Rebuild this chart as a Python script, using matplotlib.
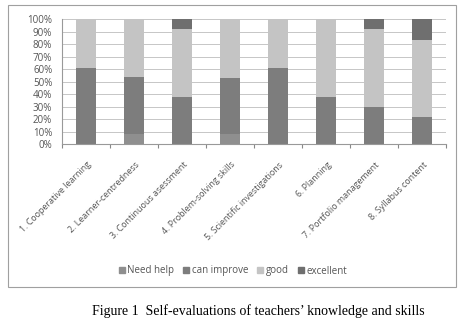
import matplotlib.pyplot as plt
import matplotlib.patches as mpatches
import numpy as np

categories = ["1. Cooperative learning", "2. Learner-centredness", "3. Continuous asessment",
              "4. Problem-solving skills", "5. Scientific investigations", "6. Planning",
              "7. Portfolio management", "8. Syllabus content"]
need_help = [0, 8, 0, 8, 0, 0, 0, 0]
can_improve = [61, 46, 38, 45, 61, 38, 30, 22]
good = [39, 46, 54, 47, 39, 62, 62, 61]
excellent = [0, 0, 8, 0, 0, 0, 8, 17]

series = [("Need help", need_help, "#8f8f8f"),
          ("can improve", can_improve, "#7d7d7d"),
          ("good", good, "#c4c4c4"),
          ("excellent", excellent, "#6f6f6f")]

fig = plt.figure(figsize=(4.63, 3.32), dpi=100)
plt.rcParams['font.family'] = ['Open Sans', 'DejaVu Sans']

# outer chart frame
fig.patches.append(mpatches.Rectangle((8 / 463, 1 - 287 / 332), 448 / 463, 282 / 332,
                                      transform=fig.transFigure, fill=False,
                                      edgecolor="#a0a0a0", linewidth=0.8))

ax = fig.add_axes([62 / 463, 1 - 144 / 332, 384 / 463, 124.7 / 332])
x = np.arange(len(categories))
bottom = np.zeros(len(categories))
for name, vals, color in series:
    ax.bar(x, vals, 0.4, bottom=bottom, color=color, label=name)
    bottom += np.array(vals)

ax.set_xlim(-0.5, len(categories) - 0.5)
ax.set_ylim(0, 100)
ax.set_yticks(range(0, 101, 10))
ax.set_yticklabels([f"{v}%" for v in range(0, 101, 10)], fontsize=7, color="#555555")
ax.set_xticks(np.arange(-0.5, len(categories), 1), minor=False)
ax.set_xticklabels([])
ax.tick_params(axis="x", length=3, color="#888888")
ax.tick_params(axis="y", length=0, pad=7)
for i, c in enumerate(categories):
    ax.text(i + 0.02, -13, c, rotation=45, ha="right", va="top", rotation_mode="anchor",
            fontsize=6.4, color="#555555")
ax.grid(axis="y", color="#bdbdbd", linewidth=0.6)
ax.set_axisbelow(True)
for s in ["top", "right"]:
    ax.spines[s].set_visible(False)
ax.spines["left"].set_color("#999999")
ax.spines["bottom"].set_color("#999999")

handles = [mpatches.Patch(color=c, label=n) for n, _, c in series]
fig.legend(handles=handles, loc="center", bbox_to_anchor=(233 / 463, 1 - 271 / 332), ncol=4,
           frameon=False, fontsize=7, handlelength=0.6, handleheight=0.6, handletextpad=0.3,
           columnspacing=0.9, labelcolor="#555555")

fig.text(258 / 463, 1 - 311 / 332, "Figure 1  Self-evaluations of teachers\u2019 knowledge and skills",
         ha="center", va="center", fontsize=10, family="Liberation Serif")

fig.savefig("out.png", dpi=100)
